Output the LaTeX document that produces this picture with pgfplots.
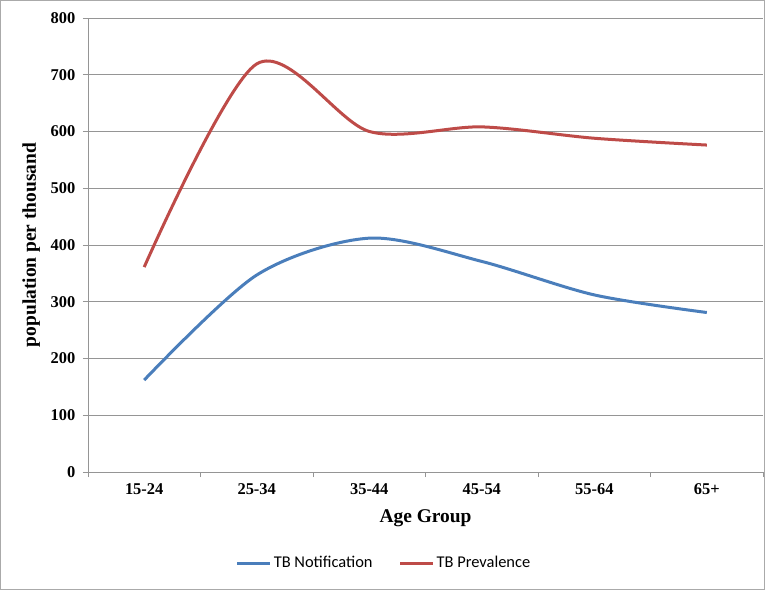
\documentclass[border=0pt]{standalone}
\usepackage{pgfplots}
\pgfplotsset{compat=1.18}
\usepackage{fontspec}
\setmainfont{Liberation Serif}
\newfontfamily\legfont{Carlito}
\definecolor{tbblue}{HTML}{4A7EBB}
\definecolor{tbred}{HTML}{BE4B48}
\definecolor{gridgray}{HTML}{959595}
\begin{document}
\begin{tikzpicture}[x=1bp,y=1bp]
\draw[gridgray!80, line width=0.8bp] (-87.5bp,-117.5bp) rectangle (676.5bp,471.5bp);
\begin{axis}[
  at={(0,0)}, anchor=south west,
  scale only axis, width=675bp, height=454bp,
  xmin=-0.5, xmax=5.5, ymin=0, ymax=800,
  axis lines=left, axis line style={gridgray, line width=0.8bp, -},
  xtick={0,1,2,3,4,5},
  xticklabels={15-24,25-34,35-44,45-54,55-64,65+},
  minor xtick={-0.5,0.5,1.5,2.5,3.5,4.5,5.5},
  major x tick style={draw=none},
  minor x tick style={gridgray, line width=0.8bp},
  minor tick length=5bp,
  ytick={0,100,...,800},
  y tick style={gridgray, line width=0.8bp},
  major tick length=5bp,
  tick align=outside,
  ymajorgrids, grid style={gridgray, line width=0.8bp},
  tick label style={font=\fontsize{16.5}{19}\selectfont\bfseries},
  /pgf/number format/assume math mode=true,
  yticklabel style={xshift=-4bp},
  xticklabel style={yshift=-3bp},
  xlabel={Age Group}, ylabel={population per thousand},
  label style={font=\fontsize{19.5}{23}\selectfont\bfseries},
  xlabel style={yshift=-8bp},
  ylabel style={yshift=4bp},
  legend style={at={(0.4385,-0.2004)}, anchor=center, draw=none, legend columns=2,
    font=\legfont\fontsize{16.5}{19}\selectfont,
    /tikz/every even column/.append style={column sep=24bp}},
  legend image code/.code={\draw[#1, line width=3bp] (0bp,0bp) -- (33bp,0bp);},
  clip=false,
]
\addplot[tbblue, line width=3bp, smooth, tension=0.5] coordinates {
  (0,162) (1,347) (2,412) (3,371) (4,312) (5,281)};
\addlegendentry{TB Notification}
\addplot[tbred, line width=3bp, smooth, tension=0.5] coordinates {
  (0,361) (1,719) (2,600) (3,608) (4,588) (5,576)};
\addlegendentry{TB Prevalence}
\end{axis}
\end{tikzpicture}
\end{document}
